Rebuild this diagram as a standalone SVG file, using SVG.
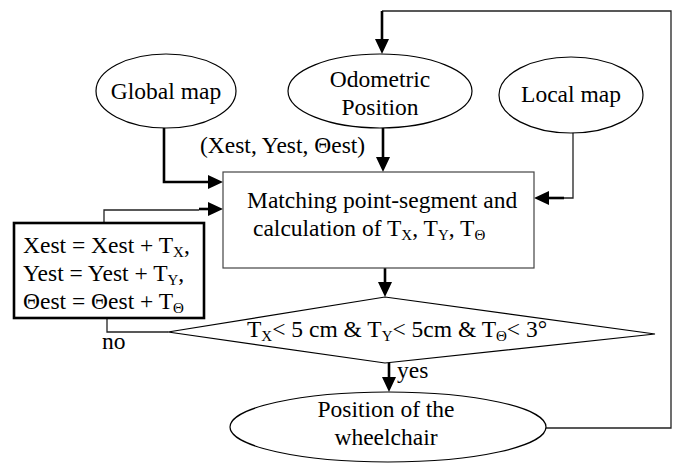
<svg xmlns="http://www.w3.org/2000/svg" width="678" height="463" viewBox="0 0 678 463">
<style>
text{font-family:'Liberation Serif','Times New Roman',serif;font-size:23.5px;fill:#000}
.c{text-anchor:middle}
.sub{font-size:15px}
.shape{fill:#fff;stroke:#000;stroke-width:1.2}
.thin{fill:none;stroke:#222;stroke-width:1.3}
.thick{fill:none;stroke:#000;stroke-width:2.6}
</style>
<defs>
<marker id="ah" viewBox="0 0 15 14" refX="7" refY="7" markerWidth="15" markerHeight="14" markerUnits="userSpaceOnUse" orient="auto">
<path d="M0,0 L15,7 L0,14 z" fill="#000"/>
</marker>
</defs>
<rect width="678" height="463" fill="#fff"/>
<g id="connectors">
<polyline class="thin" points="546,428 671,428 671,11 382,11"/>
<line class="thick" x1="382" y1="11" x2="382" y2="46" marker-end="url(#ah)"/>
<line class="thick" x1="383" y1="128" x2="383" y2="164" marker-end="url(#ah)"/>
<polyline class="thick" points="164,128 164,182 215,182" marker-end="url(#ah)"/>
<polyline class="thin" points="573,132 573,198 563,198"/>
<line class="thick" x1="564" y1="198" x2="542" y2="198" marker-end="url(#ah)"/>
<polyline class="thin" points="104,223 104,210 199,210"/>
<line class="thick" x1="199" y1="209" x2="215" y2="209" marker-end="url(#ah)"/>
<line class="thick" x1="385" y1="268" x2="385" y2="289" marker-end="url(#ah)"/>
<line class="thick" x1="389" y1="363" x2="389" y2="384" marker-end="url(#ah)"/>
<polyline class="thin" points="168,332 107,332 107,318"/>
</g>
<g id="global-map">
<ellipse class="shape" cx="166" cy="91" rx="70" ry="37"/>
<text class="c" x="166" y="99">Global map</text>
</g>
<g id="odometric-position">
<ellipse class="shape" cx="380" cy="91" rx="92" ry="37"/>
<text class="c" x="380" y="87">Odometric</text>
<text class="c" x="380" y="115">Position</text>
</g>
<g id="local-map">
<ellipse class="shape" cx="571" cy="95" rx="72" ry="38"/>
<text class="c" x="571" y="102">Local map</text>
</g>
<g id="estimate-label">
<text x="200" y="153">(Xest, Yest, Θest)</text>
</g>
<g id="matching">
<rect class="shape" x="223" y="172" width="311" height="96" style="stroke:#444"/>
<text x="247" y="208">Matching point-segment and</text>
<text x="253" y="236">calculation of T<tspan class="sub" dy="4">X</tspan><tspan dy="-4">, T</tspan><tspan class="sub" dy="4">Y</tspan><tspan dy="-4">, T</tspan><tspan class="sub" dy="4">Θ</tspan></text>
</g>
<g id="update">
<rect x="14" y="223" width="190" height="95" fill="#fff" stroke="#000" stroke-width="2.6"/>
<text x="23" y="253">Xest = Xest + T<tspan class="sub" dy="4">X</tspan><tspan dy="-4">,</tspan></text>
<text x="23" y="281">Yest = Yest + T<tspan class="sub" dy="4">Y</tspan><tspan dy="-4">,</tspan></text>
<text x="23" y="309">Θest = Θest + T<tspan class="sub" dy="4">Θ</tspan></text>
</g>
<g id="condition">
<polygon class="shape" points="168,332 385,297 655,334 385,363"/>
<text x="247" y="337">T<tspan class="sub" dy="4">X</tspan><tspan dy="-4">&lt; 5 cm &amp; T</tspan><tspan class="sub" dy="4">Y</tspan><tspan dy="-4">&lt; 5cm &amp; T</tspan><tspan class="sub" dy="4">Θ</tspan><tspan dy="-4">&lt; 3°</tspan></text>
</g>
<g id="labels">
<text x="102" y="349">no</text>
<text x="397" y="378">yes</text>
</g>
<g id="position-wheelchair">
<ellipse class="shape" cx="388" cy="427" rx="158" ry="35"/>
<text class="c" x="386" y="417">Position of the</text>
<text class="c" x="386" y="445">wheelchair</text>
</g>
</svg>
